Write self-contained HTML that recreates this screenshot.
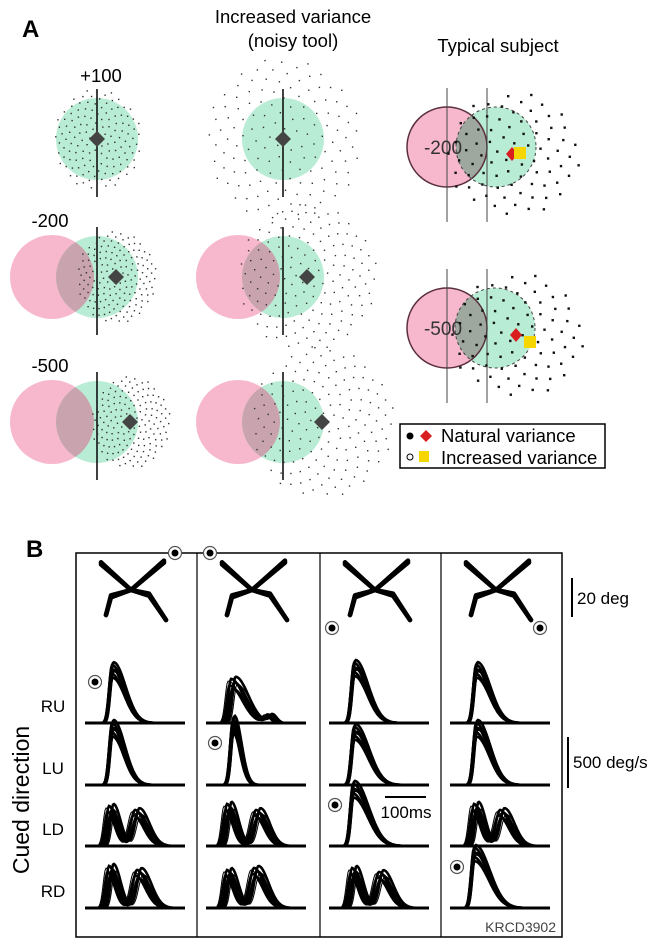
<!DOCTYPE html>
<html><head><meta charset="utf-8"><style>
html,body{margin:0;padding:0;background:#fff;}
svg{display:block;font-family:"Liberation Sans",Arial,sans-serif;}
</style></head><body>
<svg id="fig" width="661" height="950" viewBox="0 0 661 950">
<defs>
<clipPath id="cp-g1"><circle cx="97" cy="277" r="41"/></clipPath>
<clipPath id="cp-g2"><circle cx="97" cy="422" r="41"/></clipPath>
<clipPath id="cp-g3"><circle cx="283" cy="277" r="41"/></clipPath>
<clipPath id="cp-g4"><circle cx="283" cy="422" r="41"/></clipPath>
<clipPath id="cp-g5"><circle cx="496" cy="147" r="40"/></clipPath>
<clipPath id="cp-g6"><circle cx="495" cy="328" r="40"/></clipPath>
</defs>
<g id="panelA">
<text x="22" y="37" font-size="24" font-weight="bold">A</text>
<text x="293" y="23" font-size="18.5" text-anchor="middle">Increased variance</text>
<text x="293" y="47" font-size="18.5" text-anchor="middle">(noisy tool)</text>
<text x="498" y="52" font-size="18.5" text-anchor="middle">Typical subject</text>
<text x="101" y="82" font-size="18.5" text-anchor="middle">+100</text>
<text x="50" y="227" font-size="18.5" text-anchor="middle">-200</text>
<text x="50" y="372" font-size="18.5" text-anchor="middle">-500</text>
<g id="shapesA"></g>
<g id="dotsA"></g>
<g id="marksA"></g>
<g>
<rect x="400" y="424" width="205" height="44" fill="#fff" stroke="#000" stroke-width="1.5"/>
<circle cx="410" cy="436" r="3.5" fill="#000"/>
<path d="M426 430 L432 436 L426 442 L420 436Z" fill="#d81e1e"/>
<text x="441" y="442" font-size="18.5">Natural variance</text>
<circle cx="410" cy="457" r="3" fill="#fff" stroke="#000" stroke-width="1"/>
<rect x="419" y="451" width="10" height="11" fill="#f6d600"/>
<text x="441" y="464" font-size="18.5">Increased variance</text>
</g>
</g>
<g id="panelB">
<text x="26" y="557" font-size="24" font-weight="bold">B</text>
<rect x="76" y="553" width="486" height="384" fill="none" stroke="#000" stroke-width="1.5"/>
<line x1="197" y1="553" x2="197" y2="937" stroke="#000" stroke-width="1.2"/>
<line x1="320" y1="553" x2="320" y2="937" stroke="#000" stroke-width="1.2"/>
<line x1="441" y1="553" x2="441" y2="937" stroke="#000" stroke-width="1.2"/>
<g id="traces"></g>
<line x1="572" y1="578" x2="572" y2="617" stroke="#000" stroke-width="2"/>
<text x="577" y="604" font-size="17">20 deg</text>
<line x1="568" y1="737" x2="568" y2="788" stroke="#000" stroke-width="2"/>
<text x="573" y="768" font-size="17">500 deg/s</text>
<line x1="385" y1="797" x2="426" y2="797" stroke="#000" stroke-width="2"/>
<text x="406" y="818" font-size="17" text-anchor="middle">100ms</text>
<text transform="translate(29,800) rotate(-90)" font-size="23" text-anchor="middle">Cued direction</text>
<text x="53" y="712" font-size="17" text-anchor="middle">RU</text>
<text x="53" y="774" font-size="17" text-anchor="middle">LU</text>
<text x="53" y="835" font-size="17" text-anchor="middle">LD</text>
<text x="53" y="897" font-size="17" text-anchor="middle">RD</text>
<text x="556" y="932" font-size="14" fill="#444" text-anchor="end">KRCD3902</text>
</g>
</svg>
<script>
// ---- Panel A data ----
const meanShiftA = [0, 19, 33];           // mean endpoint shift per row (col 1)
const meanShiftNoisy = [0, 24, 39];       // col 2
const spreadNatural = [44, 40, 40];
const spreadNoisy = [78, 70, 72];
const dotCountA = [140, 160, 160];
const rowLabelsA = ['+100', '-200', '-500'];
const subjectNatural = [16, 20];           // red diamond shift (col 3)
const subjectNoisy = [24, 34];             // yellow square shift
// ---- Panel B data ----
const cuedDirections = ['RU', 'LU', 'LD', 'RD'];
// peaks: [position(px), amplitude(px), rise width, decay width]
const peaksCol1 = [[[27,58,4,17]], [[27,62,4,16]], [[24,40,4,10],[50,36,6,14]], [[24,42,4,10],[52,38,6,14]]];
const peaksCol2 = [[[25,44,4,18],[62,8,5,6]], [[27,66,4,10]], [[21,42,4,10],[50,36,6,13]], [[21,38,4,10],[48,40,6,14]]];
const peaksCol3 = [[[25,60,4,18]], [[25,58,4,19]], [[24,62,4,20]], [[23,40,4,10],[50,36,6,14]]];
const peaksCol4 = [[[26,58,4,18]], [[26,62,4,18]], [[24,42,4,10],[50,36,6,14]], [[24,60,4,20]]];
const traceAmpScale = [1, 0.92, 0.85, 1.05, 0.78, 0.95, 0.88, 1.02, 0.9];
const traceShift = [0, 2, -1, 3, 1, -2, 4, 0, 2];

const NS = 'http://www.w3.org/2000/svg';
function mk(tag, attrs, parent){const e=document.createElementNS(NS,tag);for(const k in attrs)e.setAttribute(k,attrs[k]);parent.appendChild(e);return e;}

const shapes=document.getElementById('shapesA'), dots=document.getElementById('dotsA'), marks=document.getElementById('marksA');
const rowY=[139,277,422], colX=[97,283];
const PINK='#f7b8cd', GREEN='#b8ecd4', OVER='#c9a3ad';
for(let c=0;c<2;c++){for(let r=0;r<3;r++){
  const cx=colX[c], cy=rowY[r];
  if(r>0){
    const p=mk('circle',{cx:cx-45,cy:cy,r:42,fill:PINK},shapes);
    
    
  }
  const g=mk('circle',{cx:cx,cy:cy,r:41,fill:GREEN},shapes);
  
  
  if(r>0){
    const id=(c*2+r);
    const o=mk('circle',{cx:cx-45,cy:cy,r:42,fill:OVER,'clip-path':'url(#cp-g'+id+')'},shapes);
    
    
  }
  const l=mk('line',{x1:cx,y1:cy-50,x2:cx,y2:cy+58,stroke:'#111','stroke-width':1.6},shapes);
  
  
}}
function cloud(cx,cy,rx,ry,n,fill,w,h){
  for(let i=0;i<n;i++){
    const rr=Math.sqrt((i+0.5)/n), th=i*2.399963;
    const d=mk('rect',{x:(cx+rx*rr*Math.cos(th)).toFixed(1),y:(cy+ry*rr*Math.sin(th)).toFixed(1),width:w,height:h,fill:fill},dots);
    
    
  }
}
for(let r=0;r<3;r++){
  const m1=colX[0]+meanShiftA[r], m2=colX[1]+meanShiftNoisy[r];
  cloud(m1,rowY[r],spreadNatural[r],spreadNatural[r]*1.15,dotCountA[r],'#333',1.4,1.4);
  cloud(m2,rowY[r],spreadNoisy[r],spreadNoisy[r]*1.05,dotCountA[r],'#333',1.4,1.4);
  for(const m of [m1,m2]){
    const d=mk('path',{d:`M${m} ${rowY[r]-8} L${m+8} ${rowY[r]} L${m} ${rowY[r]+8} L${m-8} ${rowY[r]}Z`,fill:'#444'},marks);
    
    
  }
}
const subjY=[147,328], subjLbl=['-200','-500'], subjGX=[496,495];
for(let k=0;k<2;k++){
  const cy=subjY[k], gx=subjGX[k];
  const p=mk('circle',{cx:447,cy:cy,r:40,fill:PINK,stroke:'#5a3040','stroke-width':1.5},shapes);
  
  
  const g=mk('circle',{cx:gx,cy:cy,r:40,fill:GREEN},shapes);
  
  
  mk('circle',{cx:447,cy:cy,r:40,fill:'#9fa89f','clip-path':'url(#cp-g'+(5+k)+')',stroke:'#5a3040','stroke-width':1.5},shapes);
  mk('circle',{cx:gx,cy:cy,r:40,fill:'none',stroke:'#444','stroke-width':1,'stroke-dasharray':'3,3'},shapes);
  mk('line',{x1:447,y1:cy-59,x2:447,y2:cy+75,stroke:'#444','stroke-width':1},shapes);
  mk('line',{x1:487,y1:cy-59,x2:487,y2:cy+75,stroke:'#444','stroke-width':1},shapes);
  const t=mk('text',{x:443,y:cy+7,'font-size':19,'text-anchor':'middle',fill:'#333'},shapes);
  t.textContent=subjLbl[k];
  
  
  const mx=496+subjectNatural[k];
  cloud(mx,cy+6,68,62,80,'#111',2.4,2.4);
  const dd=mk('path',{d:`M${mx} ${cy} L${mx+6} ${cy+7} L${mx} ${cy+14} L${mx-6} ${cy+7}Z`,fill:'#d81e1e'},marks);
  
  
  const ny=496+subjectNoisy[k];
  const sq=mk('rect',{x:ny-6,y:cy+(k?8:0),width:12,height:12,fill:'#f6d600'},marks);
  
  
}

// ---- Panel B ----
const tr=document.getElementById('traces');
const colLeft=[76,197,320,441], baseY=[723,785,846,908];
const allPeaks=[peaksCol1,peaksCol2,peaksCol3,peaksCol4];
function vel(t,peaks,sa,sh){let v=0;for(const p of peaks){const mu=p[0]+sh, w=t<mu?p[2]:p[3];v+=p[1]*sa*Math.exp(-Math.pow((t-mu)/w,2));}return v;}
for(let c=0;c<4;c++){
  const x0=colLeft[c]+9;
  for(let r=0;r<4;r++){
    for(let k=0;k<traceAmpScale.length;k++){
      let d='';
      for(let t=0;t<=100;t+=1){
        const y=baseY[r]-vel(t,allPeaks[c][r],traceAmpScale[k],traceShift[k]*(allPeaks[c][r].length>1?1.5:0.5));
        d+=(t?'L':'M')+(x0+t)+' '+y.toFixed(1);
      }
      const p=mk('path',{d:d,fill:'none',stroke:'#000','stroke-width':k<5?2.6:1},tr);
      
      
    }
    mk('line',{x1:x0,y1:baseY[r],x2:x0+100,y2:baseY[r],stroke:'#000','stroke-width':3},tr);
  }
  const cx=colLeft[c]+55, cy=590;
  for(let k=0;k<5;k++){
    const o=traceShift[k]*0.7;
    const d=`M${cx-30} ${cy-27+o} L${cx} ${cy} L${cx+33} ${cy-28-o} M${cx-25} ${cy+25} L${cx-20} ${cy+6+o} L${cx} ${cy} L${cx+18} ${cy+5-o} L${cx+35} ${cy+30}`;
    const p=mk('path',{d:d,fill:'none',stroke:'#000','stroke-width':k<3?4.5:1.2,'stroke-linecap':'round','stroke-linejoin':'round'},tr);
    
    
  }
}
const targetPos=[[175,553],[210,553],[332,628],[540,628],[95,682],[215,743],[335,805],[457,867]];
for(const tp of targetPos){
  mk('circle',{cx:tp[0],cy:tp[1],r:6.5,fill:'#fff',stroke:'#555','stroke-width':1.2},tr);
  const m=mk('circle',{cx:tp[0],cy:tp[1],r:3.5,fill:'#000'},tr);
  
  
}
</script>
</body></html>
